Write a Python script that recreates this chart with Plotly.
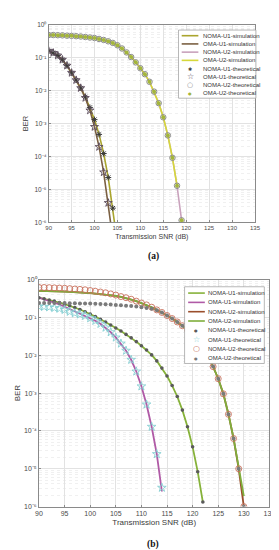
import plotly.graph_objects as go

W, H = 279, 550
FONT = "Liberation Sans"

# ======================= panel (a) data =======================
snr_a_noma_u1_sim = list(range(90, 106))
ber_a_noma_u1_sim = [0.162, 0.141, 0.117, 0.0871, 0.0575, 0.0347, 0.0209, 0.0120,
                     0.00646, 0.00309, 0.00132, 4.68e-4, 1.23e-4, 2.29e-5, 2.69e-6, 2.24e-7]
snr_a_oma_u1_sim = list(range(90, 105))
ber_a_oma_u1_sim = [0.162, 0.141, 0.117, 0.0871, 0.0575, 0.0347, 0.0209, 0.0120,
                    0.00603, 0.00251, 7.94e-4, 1.95e-4, 3.31e-5, 3.89e-6, 3.16e-7]
snr_a_noma_u2_sim = list(range(90, 120))
ber_a_noma_u2_sim = [0.490, 0.490, 0.484, 0.479, 0.468, 0.462, 0.452, 0.442, 0.427, 0.412,
                     0.398, 0.372, 0.347, 0.316, 0.282, 0.240, 0.191, 0.145, 0.105, 0.0724,
                     0.0479, 0.0316, 0.0186, 0.00933, 0.00417, 0.00155, 4.37e-4, 9.12e-5,
                     1.29e-5, 1.15e-6]
snr_a_oma_u2_sim = list(range(90, 119))
ber_a_oma_u2_sim = [0.490, 0.490, 0.484, 0.479, 0.468, 0.462, 0.452, 0.442, 0.427, 0.412,
                    0.398, 0.372, 0.347, 0.316, 0.282, 0.240, 0.191, 0.145, 0.105, 0.0724,
                    0.0479, 0.0316, 0.0186, 0.00933, 0.00417, 0.00155, 4.37e-4, 9.12e-5,
                    1.29e-5]
snr_a_noma_u1_th = list(range(90, 105))
ber_a_noma_u1_th = [0.162, 0.141, 0.117, 0.0871, 0.0575, 0.0347, 0.0209, 0.0120,
                    0.00646, 0.00309, 0.00132, 4.68e-4, 1.23e-4, 2.29e-5, 2.69e-6]
snr_a_oma_u1_th = list(range(90, 104))
ber_a_oma_u1_th = [0.162, 0.141, 0.117, 0.0871, 0.0575, 0.0347, 0.0209, 0.0120,
                   0.00603, 0.00251, 7.94e-4, 1.95e-4, 3.31e-5, 3.89e-6]
snr_a_noma_u2_th = list(range(90, 120))
ber_a_noma_u2_th = list(ber_a_noma_u2_sim)
snr_a_oma_u2_th = list(range(90, 120))
ber_a_oma_u2_th = list(ber_a_noma_u2_sim)

# ======================= panel (b) data =======================
snr_b_noma_u1 = list(range(90, 123))
ber_b_noma_u1_sim = [0.331, 0.309, 0.288, 0.269, 0.245, 0.224, 0.204, 0.182, 0.162, 0.141,
                     0.123, 0.105, 0.0891, 0.0759, 0.0631, 0.0525, 0.0437, 0.0355, 0.0288,
                     0.0229, 0.0178, 0.0138, 0.0102, 0.00708, 0.00457, 0.00282, 0.00158,
                     8.13e-4, 3.55e-4, 1.29e-4, 3.80e-5, 8.32e-6, 1.32e-6]
ber_b_noma_u1_th = list(ber_b_noma_u1_sim)
snr_b_oma_u1 = list(range(90, 115))
ber_b_oma_u1_sim = [0.331, 0.302, 0.275, 0.245, 0.219, 0.191, 0.166, 0.145, 0.126, 0.110,
                    0.0955, 0.0813, 0.0676, 0.0537, 0.0407, 0.0295, 0.0204, 0.0132, 0.00759,
                    0.00372, 0.00151, 5.01e-4, 1.29e-4, 2.45e-5, 2.51e-6]
ber_b_oma_u1_th = [0.195, 0.191, 0.186, 0.178, 0.170, 0.158, 0.141, 0.129, 0.120, 0.110,
                   0.0955, 0.0813, 0.0676, 0.0537, 0.0407, 0.0295, 0.0204, 0.0132, 0.00759,
                   0.00372, 0.00151, 5.01e-4, 1.29e-4, 2.45e-5, 3.16e-6]
snr_b_u2 = list(range(90, 131))
ber_b_noma_u2_sim = [0.501, 0.501, 0.495, 0.490, 0.484, 0.479, 0.473, 0.468, 0.457, 0.447,
                     0.437, 0.427, 0.417, 0.403, 0.389, 0.372, 0.347, 0.324, 0.295, 0.269,
                     0.240, 0.214, 0.186, 0.158, 0.135, 0.112, 0.0933, 0.0759, 0.0603,
                     0.0468, 0.0347, 0.0240, 0.0155, 0.00933, 0.00501, 0.00240, 9.55e-4,
                     2.75e-4, 6.31e-5, 1.0e-5, 1.0e-6]
ber_b_oma_u2_sim = [0.501, 0.501, 0.495, 0.490, 0.484, 0.479, 0.473, 0.468, 0.457, 0.447,
                    0.437, 0.427, 0.417, 0.403, 0.389, 0.372, 0.347, 0.324, 0.295, 0.269,
                    0.240, 0.214, 0.186, 0.158, 0.135, 0.112, 0.0933, 0.0759, 0.0603,
                    0.0468, 0.0347, 0.0240, 0.0155, 0.00933, 0.00501, 0.00240, 9.55e-4,
                    2.75e-4, 6.31e-5, 1.12e-5, 1.9e-6]
ber_b_noma_u2_th = [0.617, 0.617, 0.610, 0.603, 0.596, 0.589, 0.575, 0.562, 0.550, 0.537,
                    0.513, 0.490, 0.468, 0.447, 0.417, 0.389, 0.355, 0.331, 0.302, 0.269,
                    0.240, 0.214, 0.186, 0.158, 0.135, 0.112, 0.0933, 0.0759, 0.0603,
                    0.0468, 0.0347, 0.0240, 0.0155, 0.00933, 0.00501, 0.00240, 9.55e-4,
                    2.75e-4, 6.31e-5, 1.0e-5, 1.0e-6]
ber_b_oma_u2_th = [0.240, 0.240, 0.240, 0.240, 0.240, 0.240, 0.237, 0.237, 0.234, 0.234,
                   0.232, 0.229, 0.226, 0.224, 0.219, 0.214, 0.209, 0.204, 0.200, 0.195,
                   0.186, 0.178, 0.170, 0.155, 0.135, 0.112, 0.0933, 0.0759, 0.0603,
                   0.0468, 0.0347, 0.0240, 0.0155, 0.00933, 0.00501, 0.00240, 9.55e-4,
                   2.75e-4, 6.31e-5, 1.0e-5, 1.0e-6]

legend_names = ["NOMA-U1-simulation", "OMA-U1-simulation", "NOMA-U2-simulation",
                "OMA-U2-simulation", "NOMA-U1-theoretical", "OMA-U1-theoretical",
                "NOMA-U2-theoretical", "OMA-U2-theoretical"]

x_ticks = [90, 95, 100, 105, 110, 115, 120, 125, 130, 135]
y_tick_exps = [0, -1, -2, -3, -4, -5, -6]
y_tick_labels = ["10\u2070", "10\u207b\u00b9", "10\u207b\u00b2", "10\u207b\u00b3",
                 "10\u207b\u2074", "10\u207b\u2075", "10\u207b\u2076"]

# ======================= styles =======================
def line_st(c, w):
    return dict(mode="lines", line=dict(color=c, width=w))

def mark_st(sym, size, c, lw=1.0):
    return dict(mode="markers", marker=dict(symbol=sym, size=size, color=c,
                                            line=dict(color=c, width=lw)))

sty_a = {
    "NOMA-U1-simulation": line_st("#aaa52e", 1.6),
    "OMA-U1-simulation": line_st("#7b6042", 1.6),
    "NOMA-U2-simulation": line_st("#c9a2bc", 1.6),
    "OMA-U2-simulation": line_st("#d6d83a", 1.6),
    "NOMA-U1-theoretical": mark_st("asterisk-open", 5, "#3a3a3a", 1.0),
    "OMA-U1-theoretical": mark_st("star-open", 6, "#5a4a5a", 0.9),
    "NOMA-U2-theoretical": mark_st("circle-open", 5.5, "#8c8c8c", 1.0),
    "OMA-U2-theoretical": mark_st("circle", 4, "#a3b53c", 0),
}
sty_b = {
    "NOMA-U1-simulation": line_st("#86b23a", 1.8),
    "OMA-U1-simulation": line_st("#b05aa6", 1.8),
    "NOMA-U2-simulation": line_st("#9a4e2c", 1.8),
    "OMA-U2-simulation": line_st("#7fae3c", 1.8),
    "NOMA-U1-theoretical": mark_st("circle", 3.6, "#5a5a5a", 0),
    "OMA-U1-theoretical": mark_st("star-open", 6.5, "#86cfd2", 0.9),
    "NOMA-U2-theoretical": mark_st("circle-open", 6, "#c8705c", 0.9),
    "OMA-U2-theoretical": mark_st("circle", 4, "#7a7a7a", 0),
}

series_a = [
    ("NOMA-U1-simulation", snr_a_noma_u1_sim, ber_a_noma_u1_sim),
    ("OMA-U1-simulation", snr_a_oma_u1_sim, ber_a_oma_u1_sim),
    ("NOMA-U2-simulation", snr_a_noma_u2_sim, ber_a_noma_u2_sim),
    ("OMA-U2-simulation", snr_a_oma_u2_sim, ber_a_oma_u2_sim),
    ("NOMA-U1-theoretical", snr_a_noma_u1_th, ber_a_noma_u1_th),
    ("OMA-U1-theoretical", snr_a_oma_u1_th, ber_a_oma_u1_th),
    ("NOMA-U2-theoretical", snr_a_noma_u2_th, ber_a_noma_u2_th),
    ("OMA-U2-theoretical", snr_a_oma_u2_th, ber_a_oma_u2_th),
]
series_b = [
    ("NOMA-U1-simulation", snr_b_noma_u1, ber_b_noma_u1_sim),
    ("OMA-U1-simulation", snr_b_oma_u1, ber_b_oma_u1_sim),
    ("NOMA-U2-simulation", snr_b_u2, ber_b_noma_u2_sim),
    ("OMA-U2-simulation", snr_b_u2, ber_b_oma_u2_sim),
    ("NOMA-U1-theoretical", snr_b_noma_u1, ber_b_noma_u1_th),
    ("OMA-U1-theoretical", snr_b_oma_u1, ber_b_oma_u1_th),
    ("NOMA-U2-theoretical", snr_b_u2, ber_b_noma_u2_th),
    ("OMA-U2-theoretical", snr_b_u2, ber_b_oma_u2_th),
]

fig = go.Figure()
for name, xs, ys in series_a:
    fig.add_trace(go.Scatter(x=xs, y=ys, name=name, xaxis="x", yaxis="y",
                             showlegend=False, cliponaxis=True, **sty_a[name]))
for name, xs, ys in series_b:
    fig.add_trace(go.Scatter(x=xs, y=ys, name=name, xaxis="x2", yaxis="y2",
                             showlegend=False, cliponaxis=True, **sty_b[name]))

def px_x(p):
    return p / W

def px_y(p):
    return 1 - p / H

minor_vals = [k * 10.0 ** e for e in range(-6, 0) for k in range(2, 10)]
tick_vals = [10.0 ** e for e in y_tick_exps]

def xaxis_cfg(dom, fs):
    return dict(domain=dom, range=[90, 135], tickvals=x_ticks,
                showline=True, mirror=True, linecolor="#8a8a8a", linewidth=0.8,
                showgrid=True, gridcolor="#e2e2e2", gridwidth=0.6,
                ticks="inside", ticklen=2, tickcolor="#8a8a8a",
                tickfont=dict(family=FONT, size=fs, color="#4a4a4a"),
                zeroline=False, fixedrange=True,
                title=dict(text="Transmission SNR (dB)", standoff=3,
                           font=dict(family=FONT, size=fs + 1, color="#3a3a3a")))

def yaxis_cfg(dom, anchor, fs, standoff):
    return dict(domain=dom, anchor=anchor, type="log", range=[-6, 0],
                tickvals=tick_vals, ticktext=y_tick_labels,
                showline=True, mirror=True, linecolor="#8a8a8a", linewidth=0.8,
                showgrid=True, gridcolor="#e2e2e2", gridwidth=0.6,
                minor=dict(tickmode="array", tickvals=minor_vals, showgrid=True,
                           gridcolor="#f0f0f0", gridwidth=0.5, griddash="dot", ticks=""),
                ticks="inside", ticklen=2, tickcolor="#8a8a8a",
                tickfont=dict(family=FONT, size=fs, color="#4a4a4a"),
                zeroline=False, fixedrange=True,
                title=dict(text="BER", standoff=standoff,
                           font=dict(family=FONT, size=fs + 1, color="#3a3a3a")))

fig.update_layout(
    width=W, height=H, margin=dict(l=0, r=0, t=0, b=0),
    paper_bgcolor="white", plot_bgcolor="white",
    showlegend=False,
    xaxis=dict(anchor="y", **xaxis_cfg([px_x(38), px_x(252)], 6)),
    yaxis=yaxis_cfg([px_y(213), px_y(13)], "x", 6.5, 4),
    xaxis2=dict(anchor="y2", **xaxis_cfg([px_x(28), px_x(267)], 7)),
    yaxis2=yaxis_cfg([px_y(501), px_y(271)], "x2", 7, 2),
)

# ---------------- manual compact legends ----------------
leg_sym = {
    "a": ["line", "line", "line", "line", "\u2731", "\u2606", "\u25cb", "\u25cf"],
    "b": ["line", "line", "line", "line", "\u25cf", "\u2606", "\u25cb", "\u25cf"],
}
leg_sym_size = {"a": [0, 0, 0, 0, 5, 8, 7, 4], "b": [0, 0, 0, 0, 4, 8, 8, 4]}

def color_of(st):
    if st["mode"] == "lines":
        return st["line"]["color"]
    return st["marker"]["color"]

legend_specs = [
    # key, styles, box(x0,y0,x1,y1), first row y, row step, line x0,x1, text x, font size
    ("a", sty_a, (172.7, 18.3, 253, 87.3), 24.0, 8.33, 176, 193.3, 196, 6),
    ("b", sty_b, (179, 278.3, 261.7, 356), 284.7, 9.43, 182.7, 200, 201.7, 6),
]
shapes = []
annotations = []
for key, sty, box, y0, dy, lx0, lx1, tx, fs in legend_specs:
    shapes.append(dict(type="rect", xref="paper", yref="paper",
                       x0=px_x(box[0]), x1=px_x(box[2]), y0=px_y(box[3]), y1=px_y(box[1]),
                       fillcolor="white", line=dict(color="#9a9a9a", width=0.7), layer="above"))
    for i, name in enumerate(legend_names):
        yy = y0 + i * dy
        col = color_of(sty[name])
        if leg_sym[key][i] == "line":
            shapes.append(dict(type="line", xref="paper", yref="paper",
                               x0=px_x(lx0), x1=px_x(lx1), y0=px_y(yy), y1=px_y(yy),
                               line=dict(color=col, width=1.6), layer="above"))
        else:
            annotations.append(dict(xref="paper", yref="paper", x=px_x((lx0 + lx1) / 2),
                                    y=px_y(yy), text=leg_sym[key][i], showarrow=False,
                                    xanchor="center", yanchor="middle",
                                    font=dict(family="DejaVu Sans", size=leg_sym_size[key][i],
                                              color=col)))
        annotations.append(dict(xref="paper", yref="paper", x=px_x(tx), y=px_y(yy),
                                text=name, showarrow=False, xanchor="left", yanchor="middle",
                                font=dict(family=FONT, size=fs, color="#333333")))

# panel captions
for lab, yy in [("(a)", 248), ("(b)", 539.5)]:
    annotations.append(dict(xref="paper", yref="paper", x=px_x(146.5), y=px_y(yy),
                            text="<b>%s</b>" % lab, showarrow=False,
                            xanchor="center", yanchor="middle",
                            font=dict(family="Liberation Serif", size=9.5, color="#111111")))

fig.update_layout(shapes=shapes, annotations=annotations)
fig.write_html("out.html")
